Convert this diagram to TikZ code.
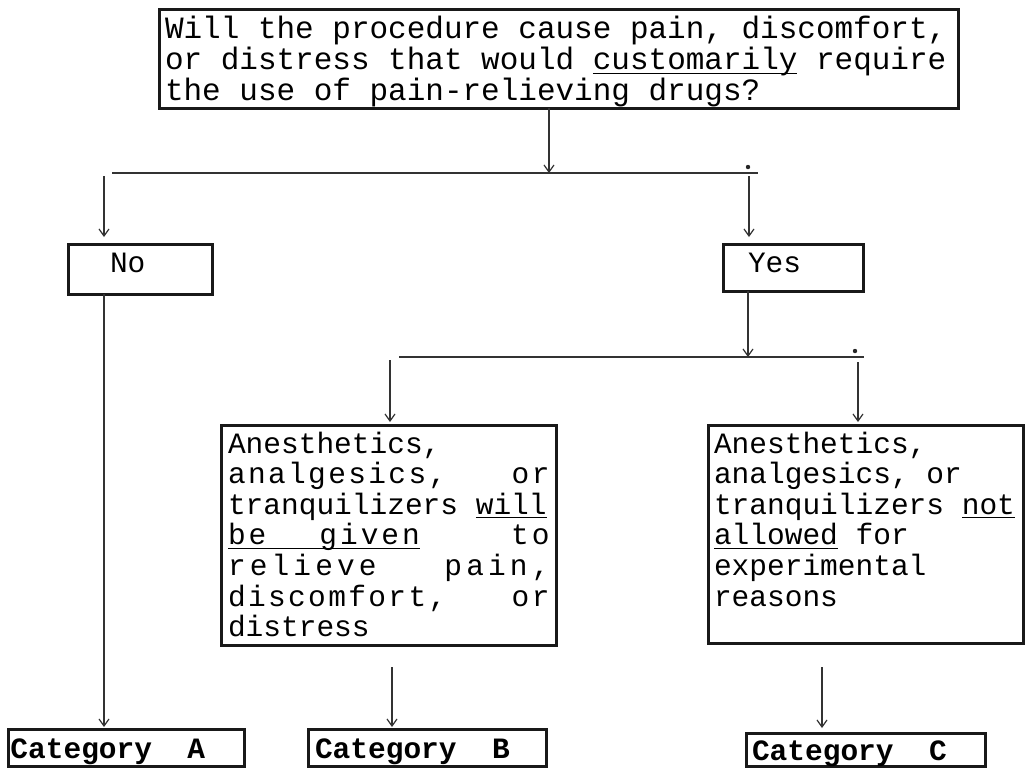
\documentclass[tikz,border=0pt]{standalone}
\usepackage{fontspec}
\setmainfont{Liberation Mono}
\usetikzlibrary{arrows.meta}
\newcommand\monosp{\frenchspacing\spaceskip=0.6em\relax\xspaceskip=0.6em\relax}
\newcommand\gap{\hskip 0pt plus 1filll\relax}
\newcommand\ulin[1]{\leavevmode\setbox0\hbox{#1}\rlap{\rule[-2pt]{\wd0}{0.6pt}}\box0\relax}
\newcommand\spread[2]{{\addfontfeature{LetterSpace=#1}#2}}
\tikzset{
  frame/.style={draw=black!90, line width=1.5pt, anchor=north west, outer sep=0pt,
    align=flush left, text height=10.7pt, execute at begin node=\monosp},
  body/.style={font=\fontsize{14.75}{15.3}\selectfont},
  cat/.style={frame, font=\fontsize{14.75}{15.3}\selectfont\bfseries, text depth=0.7pt},
  link/.style={draw=black!80, line width=0.6pt},
  >={Straight Barb[length=3.5pt,width=5pt]}
}
\begin{document}
\begin{tikzpicture}[x=0.5pt,y=-0.5pt]
  \useasboundingbox (0,0) rectangle (1028,768);
  \fill[white] (0,0) rectangle (1028,768);

  % question
  \node[frame, font=\fontsize{15.5}{15.5}\selectfont, inner xsep=3pt, inner ysep=3.9pt,
    text width=393.5pt, text depth=30.75pt] (q) at (159,9.5)
    {Will the procedure cause pain, discomfort,\\
     or distress that would \ulin{customarily} require\\
     the use of pain-relieving drugs?};

  % answers
  \node[frame, body, inner xsep=21pt, inner ysep=3.3pt, text width=30pt, text depth=7.7pt] (no) at (68,244) {No};
  \node[frame, body, inner xsep=12.5pt, inner ysep=3.3pt, text width=45pt, text depth=6.2pt] (yes) at (723,244) {Yes};

  \node[frame, body, inner xsep=3.25pt, inner ysep=3.3pt, text width=160.75pt, text depth=92.7pt] (given) at (221.5,425)
    {Anesthetics,\\
     \spread{8}{analgesics,\gap or}\\
     tranquilizers \ulin{will}\\
     \spread{10}{\ulin{be\ \ \ given}\gap to}\\
     \spread{14}{relieve\gap pain,}\\
     \spread{8}{discomfort,\gap or}\\
     distress};
  \node[frame, body, inner xsep=3pt, inner ysep=3.3pt, text width=151.5pt, text depth=91.7pt] (withheld) at (708,425)
    {Anesthetics,\\
     analgesics, or\\
     tranquilizers \ulin{not}\\
     \ulin{allowed} for\\
     experimental\\
     reasons};

  % categories
  \node[cat, inner xsep=1pt, inner ysep=3.55pt, text width=116pt] (catA) at (8.5,729.5) {Category~~A};
  \node[cat, inner xsep=3.25pt, inner ysep=3.55pt, text width=112.5pt] (catB) at (308.5,729.5) {Category~~B};
  \node[cat, inner xsep=2.75pt, inner ysep=2.55pt, text width=114pt] (catC) at (746.5,733.5) {Category~~C};

  % rails
  \coordinate (j1) at (549,173);
  \coordinate (r1w) at (112,173);
  \coordinate (r1e) at (758,173);
  \coordinate (j2) at (748,357);
  \coordinate (r2w) at (399,357);
  \coordinate (r2e) at (864,357);
  \coordinate (d1) at (104,176);
  \coordinate (d2) at (749,176);
  \coordinate (d3) at (390,360);
  \coordinate (d4) at (858,362);
  \coordinate (d5) at (392,667);
  \coordinate (d6) at (822,667);

  \draw[link] (r1w) -- (r1e);
  \draw[link] (r2w) -- (r2e);
  \foreach \a/\b/\y in {112/130/173, 526/542/173, 560/578/173, 740/758/173,
                        399/417/357, 722/737/357, 760/775/357, 845/864/357}
    \draw[link, line width=1.1pt] (\a,\y) -- (\b,\y);
  \fill[black!85] (748,167) circle (1.1pt);
  \fill[black!85] (855,351) circle (1.1pt);

  \draw[link,->] (q.south -| j1) -- (j1);
  \draw[link,->,shorten >=3.5pt] (d1) -- (d1 |- no.north);
  \draw[link,->,shorten >=3.5pt] (d2) -- (d2 |- yes.north);
  \draw[link,->] (yes.south -| j2) -- (j2);
  \draw[link,->,shorten >=1.5pt] (d3) -- (d3 |- given.north);
  \draw[link,->,shorten >=1.5pt] (d4) -- (d4 |- withheld.north);
  \draw[link,->,shorten >=1.25pt] (no.south -| d1) -- (catA.north -| d1);
  \draw[link,->,shorten >=1.25pt] (d5) -- (d5 |- catB.north);
  \draw[link,->,shorten >=2.75pt] (d6) -- (d6 |- catC.north);
\end{tikzpicture}
\end{document}
